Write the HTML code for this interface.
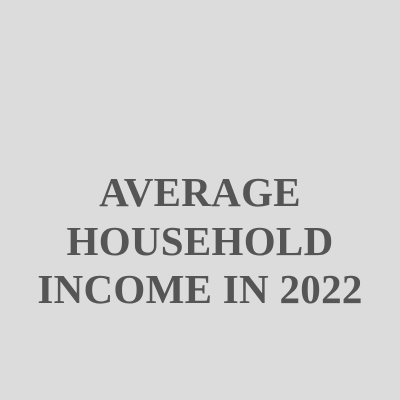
<!DOCTYPE html>
<html>
<head>
<meta charset="utf-8">
<style>
  html, body { margin: 0; padding: 0; }
  body { width: 400px; height: 400px; background: #dcdcdc; overflow: hidden; position: relative; }
  .title {
    position: absolute; left: 0; width: 400px; top: 168px;
    text-align: center;
    font-family: "Liberation Serif", serif;
    font-weight: bold;
    font-size: 41px;
    line-height: 48.5px;
    color: #555555;
    letter-spacing: 0.3px;
  }
</style>
</head>
<body>
  <div class="title">AVERAGE<br>HOUSEHOLD<br>INCOME IN 2022</div>
</body>
</html>
